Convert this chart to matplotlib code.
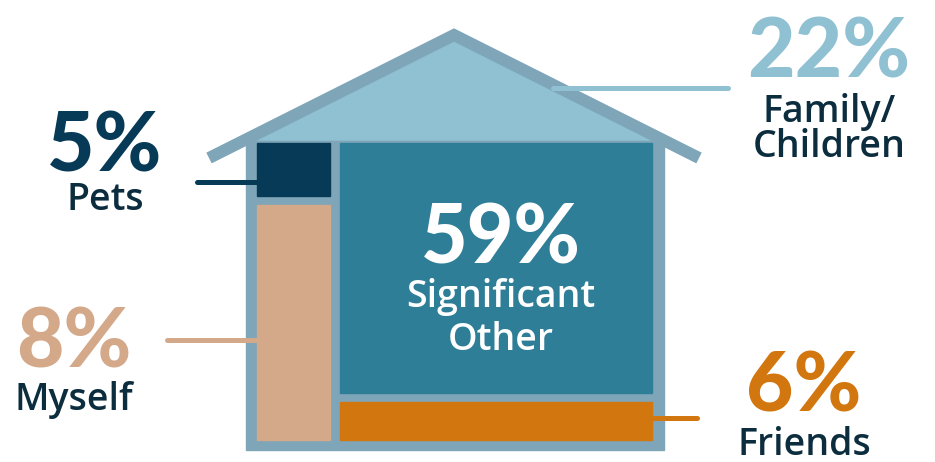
import matplotlib.pyplot as plt
from matplotlib.patches import Rectangle, Polygon

# who people share their home with (share in %)
categories = ["Significant\nOther", "Family/\nChildren", "Myself", "Friends", "Pets"]
shares = [59, 22, 8, 6, 5]
colors = ["#2f7e98", "#8fc1d3", "#d4a98a", "#d2760f", "#063a57"]

OUTLINE = "#7fa5b8"
LABEL = "#0b2d3e"
NUM_FONT = dict(family=["Lato", "DejaVu Sans"], weight="black")
LBL_FONT = dict(family=["Open Sans", "DejaVu Sans"], weight="semibold")

# room boxes in pixel space (x0, y0, x1, y1); roof has no box
rooms = {
    "Significant\nOther": (340, 143, 652, 393),
    "Myself": (257, 205, 330, 440),
    "Friends": (340, 402, 652, 440),
    "Pets": (257, 143, 330, 196),
}
# leader lines: (x_start, x_end, y)
leaders = {
    "Family/\nChildren": (553, 728, 88),
    "Myself": (167, 257, 340),
    "Friends": (652, 697, 418),
    "Pets": (197, 257, 182),
}
# text anchors: (x_center, number baseline, label baseline)
anchors = {
    "Significant\nOther": (501, 263, 307),
    "Family/\nChildren": (829, 77, 122),
    "Myself": (74, 367, 410),
    "Friends": (804, 412, 455),
    "Pets": (105, 172, 210),
}

fig = plt.figure(figsize=(9.35, 4.62), dpi=100)
ax = fig.add_axes([0, 0, 1, 1])
ax.set_xlim(0, 935)
ax.set_ylim(462, 0)
ax.axis("off")

# house body
ax.add_patch(Rectangle((246, 139), 664 - 246, 450 - 139, color=OUTLINE, zorder=1))
# roof fill + roof stroke
roof_col = colors[categories.index("Family/\nChildren")]
ax.add_patch(Polygon([(454, 40), (246, 140), (664, 140)], closed=True, color=roof_col, zorder=1))
ax.plot([209, 454, 699], [158, 35, 158], color=OUTLINE, lw=8.6,
        solid_joinstyle="miter", solid_capstyle="butt", zorder=2)

for cat, col in zip(categories, colors):
    if cat in rooms:
        x0, y0, x1, y1 = rooms[cat]
        ax.add_patch(Rectangle((x0, y0), x1 - x0, y1 - y0, color=col, zorder=3))

for cat, col in zip(categories, colors):
    if cat in leaders:
        xs, xe, y = leaders[cat]
        ax.plot([xs, xe], [y, y], color=col, lw=3.6, solid_capstyle="round", zorder=2.5)

for cat, val, col in zip(categories, shares, colors):
    x, yn, yl = anchors[cat]
    inside = cat == "Significant\nOther"
    num_col = "white" if inside else col
    lbl_col = "white" if inside else LABEL
    fs = 58 if inside else 59
    ax.text(x, yn, f"{val}%", color=num_col, fontsize=fs, ha="center", va="baseline",
            zorder=5, **NUM_FONT)
    ax.text(x, yl, cat.split("\n")[0], color=lbl_col, fontsize=27, ha="center",
            va="baseline", zorder=5, **LBL_FONT)
    if "\n" in cat:
        ax.text(x, yl + 35 if not inside else yl + 43, cat.split("\n")[1], color=lbl_col,
                fontsize=27, ha="center", va="baseline", zorder=5, **LBL_FONT)

fig.savefig("out.png", dpi=100)
